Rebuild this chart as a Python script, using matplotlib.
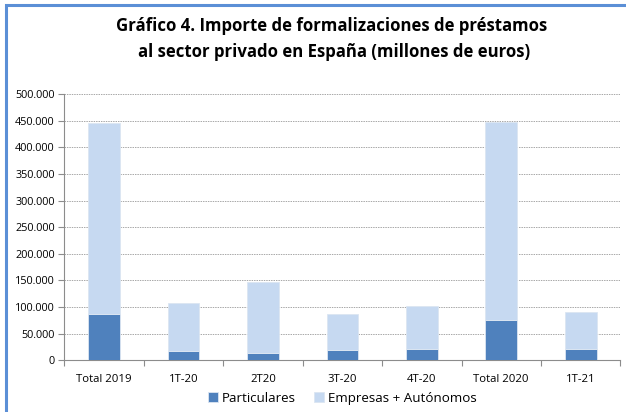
import matplotlib
matplotlib.use("Agg")
import matplotlib.pyplot as plt
from matplotlib.patches import Rectangle
from matplotlib.ticker import FuncFormatter, MultipleLocator

categories = ["Total 2019", "1T-20", "2T20", "3T-20", "4T-20", "Total 2020", "1T-21"]
totales = [446600, 108100, 147800, 86200, 101900, 447800, 91200]
particulares = [86200, 17600, 13800, 18300, 21400, 76100, 20100]
empresas = [t - p for t, p in zip(totales, particulares)]

plt.rcParams["font.family"] = ["Open Sans", "DejaVu Sans"]

fig = plt.figure(figsize=(6.26, 4.12), dpi=100)
ax = fig.add_axes([0.103, 0.126, 0.888, 0.645])

x = range(len(categories))
ax.bar(x, particulares, width=0.4, color="#4f81bd", edgecolor="#dce6f2", linewidth=0.6,
       label="Particulares", zorder=3)
ax.bar(x, empresas, width=0.4, bottom=particulares, color="#c6d9f1", edgecolor="#dce6f2",
       linewidth=0.6, label="Empresas + Autónomos", zorder=3)

ax.set_xlim(-0.5, len(categories) - 0.5)
ax.set_ylim(0, 500000)
ax.yaxis.set_major_locator(MultipleLocator(50000))
ax.yaxis.set_major_formatter(FuncFormatter(lambda v, _: f"{int(v):,}".replace(",", ".")))
ax.grid(axis="y", color="#a8a8a8", linestyle=(0, (1.5, 1)), linewidth=0.7, zorder=0)

ax.set_xticks(list(x))
ax.set_xticklabels(categories)
ax.set_xticks([i - 0.5 for i in range(len(categories) + 1)], minor=True)
ax.tick_params(axis="x", which="major", length=0, labelsize=8.2, pad=10, colors="#000000")
ax.tick_params(axis="x", which="minor", length=4, color="#8c8c8c", width=0.8)
ax.tick_params(axis="y", length=4, labelsize=7.8, color="#8c8c8c", width=0.8, pad=3)

for side in ("top", "right"):
    ax.spines[side].set_visible(False)
for side in ("left", "bottom"):
    ax.spines[side].set_color("#8c8c8c")
    ax.spines[side].set_linewidth(0.8)

fig.text(0.529, 0.938, "Gráfico 4. Importe de formalizaciones de préstamos",
         ha="center", va="center", fontsize=12.1, fontweight="bold")
fig.text(0.533, 0.873, "al sector privado en España (millones de euros)",
         ha="center", va="center", fontsize=12.1, fontweight="bold")

leg = ax.legend(loc="upper center", bbox_to_anchor=(0.5, -0.1), ncol=2, frameon=False,
                fontsize=9.6, handlelength=0.75, handleheight=0.75, handletextpad=0.3,
                columnspacing=1.4, borderaxespad=0)

# outer frame (top and left edges visible)
fig.patches.append(Rectangle((0.009, -0.05), 1.1, 1.038, transform=fig.transFigure,
                             fill=False, edgecolor="#5b8fd6", linewidth=2.2))

fig.savefig("out.png", dpi=100, facecolor="white")
